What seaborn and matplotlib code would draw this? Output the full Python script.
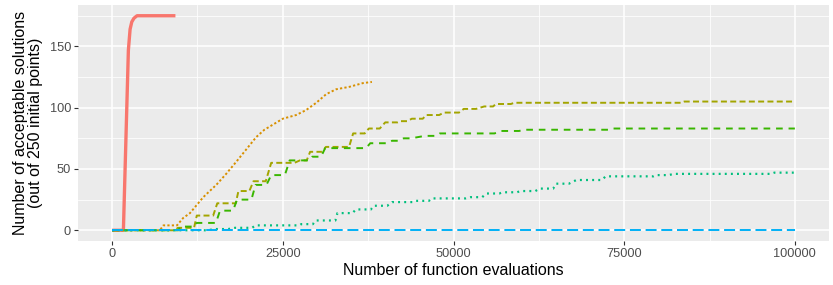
import matplotlib
matplotlib.use("Agg")
import matplotlib.pyplot as plt
import seaborn as sns
import pandas as pd

# ---- data ----
series_names = ["A", "B", "C", "D", "E", "F"]
colors = ["#F8766D", "#D89000", "#A3A500", "#39B600", "#00BF7D", "#00B0F6"]

red_x = [0, 1650, 2380, 2630, 2880, 3200, 3650, 9270]
red_y = [0, 0, 147, 164, 170, 173, 175, 175]

orange_x = [0, 7000, 7500, 9500, 10400, 11400, 12300, 13350, 14100, 15250, 16700, 18200,
            19650, 21100, 22300, 23800, 25000, 26950, 28400, 29900, 31350, 32800, 34750,
            36700, 38050]
orange_y = [0, 0, 4, 4, 10, 14, 20, 27, 31, 37, 46, 56, 66, 76, 82, 87, 91, 94, 98, 104,
            111, 115, 117, 120, 121]

olive_x = [0, 9300, 9600, 12000, 12400, 14800, 15400, 18100, 18500, 20100, 20700, 22500,
           23300, 26700, 27500, 28500, 29000, 30800, 31300, 34700, 35300, 37000, 37600,
           39200, 40000, 41800, 42300, 43200, 43900, 45500, 46000, 47900, 48600, 50800,
           51500, 53300, 54500, 55800, 56200, 58400, 58900, 83300, 83800, 100000]
olive_y = [0, 0, 2, 2, 12, 12, 22, 22, 32, 32, 40, 40, 55, 55, 57, 57, 64, 64, 68, 68, 79,
           79, 83, 83, 88, 88, 89, 89, 91, 91, 94, 94, 96, 96, 99, 99, 101, 101, 103, 103,
           104, 104, 105, 105]

green_x = [0, 9700, 10000, 12000, 12400, 15200, 15800, 17700, 18300, 20400, 21000, 22600,
           23300, 25300, 26000, 28900, 29300, 30600, 31200, 37200, 37800, 40200, 41000,
           42100, 42700, 43800, 45800, 47500, 48000, 56000, 57000, 59600, 60300, 72800,
           73300, 100000]
green_y = [0, 0, 3, 3, 6, 6, 16, 16, 25, 25, 37, 37, 45, 45, 57, 57, 60, 60, 67, 67, 71,
           71, 73, 73, 75, 75, 77, 77, 79, 79, 81, 81, 82, 82, 83, 83]

teal_x = [0, 14000, 15000, 17000, 18000, 20500, 21000, 27400, 27700, 29400, 29800, 32700,
          33000, 35200, 35700, 37900, 38300, 40300, 41000, 44000, 44400, 46400, 46800,
          51800, 52500, 54200, 54800, 56700, 57200, 59300, 59800, 62000, 62600, 64600,
          65000, 66900, 68000, 71700, 72300, 79300, 79700, 81500, 82300, 96500, 97000,
          100000]
teal_y = [0, 0, 1, 1, 2, 2, 4, 4, 5, 5, 8, 8, 14, 14, 17, 17, 20, 20, 23, 23, 24, 24, 26,
          26, 27, 27, 30, 30, 31, 31, 32, 32, 34, 34, 38, 38, 41, 41, 44, 44, 45, 45, 46,
          46, 47, 47]

blue_x = [0, 100000]
blue_y = [0, 0]

x_ticks = [0, 25000, 50000, 75000, 100000]
x_tick_labels = ["0", "25000", "50000", "75000", "100000"]
y_ticks = [0, 50, 100, 150]
y_tick_labels = ["0", "50", "100", "150"]
x_title = "Number of function evaluations"
y_title = "Number of acceptable solutions\n(out of 250 initial points)"

# ---- build table ----
xs = [red_x, orange_x, olive_x, green_x, teal_x, blue_x]
ys = [red_y, orange_y, olive_y, green_y, teal_y, blue_y]
frames = []
for name, x, y in zip(series_names, xs, ys):
    frames.append(pd.DataFrame({"evals": x, "solutions": y, "series": name}))
df = pd.concat(frames, ignore_index=True)

# ---- style ----
plt.rcParams["font.family"] = ["Liberation Sans", "DejaVu Sans"]
plt.rcParams["lines.scale_dashes"] = False

dash_map = {
    "A": "",
    "B": (1.6, 1.6),
    "C": (4.3, 2.4),
    "D": (4.8, 4.2),
    "E": (1.4, 3.0),
    "F": (7.9, 3.4),
}
widths = {"A": 2.4, "B": 1.4, "C": 1.4, "D": 1.4, "E": 1.6, "F": 1.4}

fig = plt.figure(figsize=(8.33, 2.85), dpi=100)
ax = fig.add_axes([78 / 833, 1 - 241 / 285, (829 - 78) / 833, (241 - 5) / 285])
ax.set_facecolor("#EBEBEB")

for name, col in zip(series_names, colors):
    sub = df[df["series"] == name]
    sns.lineplot(data=sub, x="evals", y="solutions", color=col, estimator=None,
                 sort=False, ax=ax, linewidth=widths[name], legend=False)
    line = ax.lines[-1]
    if dash_map[name]:
        line.set_dashes(dash_map[name])
    line.set_solid_capstyle("butt")
    line.set_dash_capstyle("butt")
    line.set_solid_joinstyle("round")

ax.set_xlim(-5000, 105000)
ax.set_ylim(-8.75, 183.75)
ax.set_xticks(x_ticks)
ax.set_xticklabels(x_tick_labels)
ax.set_yticks(y_ticks)
ax.set_yticklabels(y_tick_labels)
ax.set_xticks([12500, 37500, 62500, 87500], minor=True)
ax.set_yticks([25, 75, 125, 175], minor=True)

ax.grid(True, which="major", color="white", linewidth=1.1)
ax.grid(True, which="minor", color="white", linewidth=0.55)
ax.set_axisbelow(True)
for s in ax.spines.values():
    s.set_visible(False)
ax.tick_params(which="major", length=3, width=0.8, color="#333333",
               labelcolor="#4D4D4D", labelsize=9.2, pad=2)
ax.tick_params(which="minor", length=0)

ax.set_xlabel(x_title, fontsize=11.5, color="black", labelpad=2)
ax.set_ylabel(y_title, fontsize=11.5, color="black", labelpad=5, linespacing=1.0)

fig.savefig("out.png", dpi=100)
